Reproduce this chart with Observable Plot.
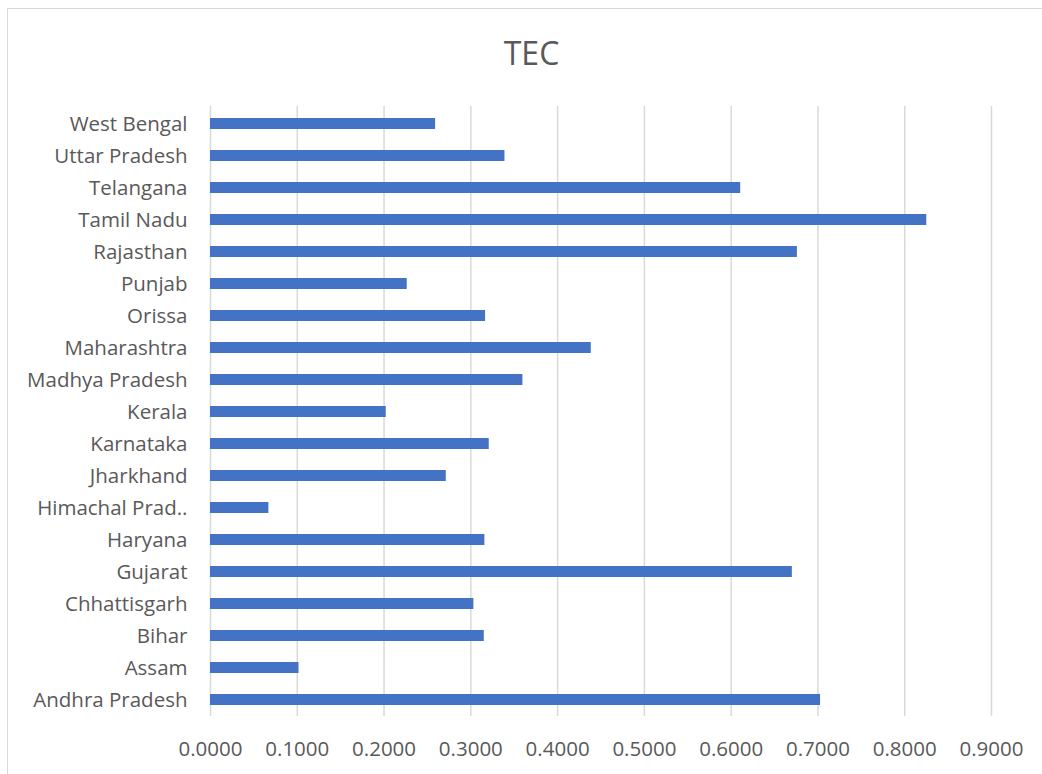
<!DOCTYPE html>
<html>
<head>
<meta charset="utf-8">
<script src="https://cdn.jsdelivr.net/npm/d3@7"></script>
<script src="https://cdn.jsdelivr.net/npm/@observablehq/plot@0.6"></script>
<style>
  html, body { margin: 0; padding: 0; background: #fff; }
  body { width: 1042px; height: 774px; overflow: hidden; position: relative; font-family: "Open Sans", sans-serif; }
  #frame { position: absolute; left: 7px; top: 8px; width: 1100px; height: 900px; border: 1px solid #d9d9d9; box-sizing: border-box; }
  #title { position: relative; height: 95px; box-sizing: border-box; padding-top: 37px; padding-left: 21px; text-align: center; font-size: 32px; line-height: 32px; color: #595959; }
  #chart { position: relative; }
  #chart svg { display: block; }
</style>
</head>
<body>
<div id="frame"></div>
<div id="title">TEC</div>
<div id="chart"></div>
<script>
// Categories listed bottom to top as in the reference
const states = [
  "Andhra Pradesh", "Assam", "Bihar", "Chhattisgarh", "Gujarat", "Haryana",
  "Himachal Prad..", "Jharkhand", "Karnataka", "Kerala", "Madhya Pradesh",
  "Maharashtra", "Orissa", "Punjab", "Rajasthan", "Tamil Nadu", "Telangana",
  "Uttar Pradesh", "West Bengal"
];
const tec = [
  0.703, 0.102, 0.3155, 0.3035, 0.6705, 0.3162,
  0.0673, 0.2717, 0.3212, 0.2025, 0.360,
  0.4388, 0.317, 0.2267, 0.6763, 0.8254, 0.611,
  0.3393, 0.2594
];
const xTicks = [0, 0.1, 0.2, 0.3, 0.4, 0.5, 0.6, 0.7, 0.8, 0.9];

const data = states.map((s, i) => ({state: s, value: tec[i]}));

const chart = Plot.plot({
  width: 1042,
  height: 679,
  marginTop: 11,
  marginBottom: 58,
  marginLeft: 210,
  marginRight: 51,
  style: {fontFamily: "Open Sans, sans-serif", fontSize: "20.5px", color: "#595959", background: "transparent"},
  x: {domain: [0, 0.9], ticks: xTicks, tickFormat: d3.format(".4f"), label: null},
  y: {domain: states.slice().reverse(), paddingInner: 0.66, paddingOuter: 0.33, label: null},
  marks: [
    Plot.gridX(xTicks, {stroke: "#d9d9d9", strokeOpacity: 1, strokeWidth: 1.5}),
    Plot.axisX({ticks: xTicks, tickFormat: d3.format(".4f"), tickSize: 0, tickPadding: 25, label: null}),
    Plot.axisY({tickSize: 0, tickPadding: 23, label: null}),
    Plot.barX(data, {x: "value", y: "state", fill: "#4472c4"})
  ]
});
document.getElementById("chart").appendChild(chart);
</script>
</body>
</html>
